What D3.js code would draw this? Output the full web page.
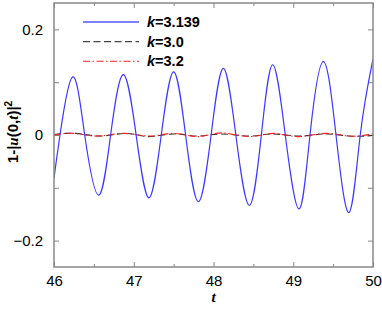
<!DOCTYPE html>
<html>
<head>
<meta charset="utf-8">
<script src="https://cdn.jsdelivr.net/npm/d3@7"></script>
<style>
  body { margin: 0; background: #fff; }
  svg { display: block; font-family: "Liberation Sans", Arial, sans-serif; }
</style>
</head>
<body>
<svg id="chart"></svg>
<script>
// Values: [t, 1-|u(0,t)|^2]
const seriesK3139 = [
  [46.00, -0.082], [46.075, 0], [46.234, 0.110], [46.385, 0], [46.56, -0.114],
  [46.71, 0], [46.869, 0.1145], [47.03, 0], [47.19, -0.119], [47.345, 0],
  [47.50, 0.1196], [47.65, 0], [47.81, -0.126], [47.97, 0], [48.123, 0.126],
  [48.28, 0], [48.449, -0.133], [48.60, 0], [48.742, 0.133], [48.90, 0],
  [49.072, -0.140], [49.21, 0], [49.377, 0.139], [49.536, 0], [49.699, -0.147],
  [49.84, 0], [50.00, 0.144]
];
const seriesK30 = [
  [46.00, 0.001], [46.28, 0.003], [46.58, -0.002], [46.91, 0.003], [47.18, -0.003],
  [47.50, 0.002], [47.80, -0.002], [48.10, 0.002], [48.45, -0.002], [48.75, 0.002],
  [49.07, -0.002], [49.40, 0.002], [49.70, -0.002], [50.00, -0.001]
];
const seriesK32 = [
  [46.00, 0.000], [46.25, 0.003], [46.55, -0.002], [46.88, 0.003], [47.20, -0.002],
  [47.50, 0.003], [47.82, -0.003], [48.10, 0.004], [48.45, -0.003], [48.75, 0.003],
  [49.05, -0.003], [49.40, 0.003], [49.70, -0.002], [50.00, 0.002]
];
const legendLabels = ["3.139", "3.0", "3.2"];
const xMajorTicks = [46, 47, 48, 49, 50];
const xMinorTicks = [46.5, 47.5, 48.5, 49.5];
const yMajorTicks = [-0.2, 0, 0.2];
const yMinorTicks = [-0.1, 0.1];
const yTickLabels = ["\u22120.2", "0", "0.2"];

const width = 382, height = 311;
const margin = {top: 3, right: 9, bottom: 44, left: 54};
const w = width - margin.left - margin.right;
const h = height - margin.top - margin.bottom;

const svg = d3.select("#chart").attr("width", width).attr("height", height);
const g = svg.append("g").attr("transform", `translate(${margin.left},${margin.top})`);

const x = d3.scaleLinear().domain([46, 50]).range([0, w]);
const y = d3.scaleLinear().domain([-0.25, 0.25]).range([h, 0]);

g.append("defs").append("clipPath").attr("id", "clip")
  .append("rect").attr("width", w).attr("height", h);

const axisColor = "#888";

// axes (ticks point inward, mirrored on top and right)
const bottom = g.append("g").attr("transform", `translate(0,${h})`)
  .call(d3.axisBottom(x).tickValues(xMajorTicks).tickSize(-5).tickPadding(8.5).tickFormat(d3.format("d")));
g.append("g").attr("transform", `translate(0,${h})`)
  .call(d3.axisBottom(x).tickValues(xMinorTicks).tickSize(-3).tickFormat(""));
g.append("g").call(d3.axisTop(x).tickValues(xMajorTicks).tickSize(-5).tickFormat(""));
g.append("g").call(d3.axisTop(x).tickValues(xMinorTicks).tickSize(-3).tickFormat(""));

g.append("g")
  .call(d3.axisLeft(y).tickValues(yMajorTicks).tickSize(-5).tickPadding(11)
    .tickFormat((d, i) => yTickLabels[i]));
g.append("g").call(d3.axisLeft(y).tickValues(yMinorTicks).tickSize(-5).tickFormat(""));
g.append("g").attr("transform", `translate(${w},0)`)
  .call(d3.axisRight(y).tickValues(yMajorTicks).tickSize(-5).tickFormat(""));
g.append("g").attr("transform", `translate(${w},0)`)
  .call(d3.axisRight(y).tickValues(yMinorTicks).tickSize(-5).tickFormat(""));

g.selectAll(".domain").remove();
g.selectAll(".tick line").attr("stroke", axisColor).attr("stroke-width", 1);
g.selectAll(".tick text").attr("fill", "#000").style("font-size", "15px")
  .style("font-family", "'Liberation Sans', Arial, sans-serif");

// curves
const line = d3.line().x(d => x(d[0])).y(d => y(d[1])).curve(d3.curveNatural);
const plot = g.append("g").attr("clip-path", "url(#clip)");

plot.append("path").datum(seriesK30)
  .attr("d", line).attr("fill", "none")
  .attr("stroke", "#333").attr("stroke-width", 1.1).attr("stroke-dasharray", "7,3.5");
plot.append("path").datum(seriesK32)
  .attr("d", line).attr("fill", "none")
  .attr("stroke", "#ff2020").attr("stroke-width", 1.1).attr("stroke-dasharray", "7,2.5,1.5,2.5");
plot.append("path").datum(seriesK3139)
  .attr("d", line).attr("fill", "none")
  .attr("stroke", "#3a3aff").attr("stroke-width", 1.2);

// frame
g.append("rect").attr("width", w).attr("height", h)
  .attr("fill", "none").attr("stroke", axisColor).attr("stroke-width", 1.5);

// legend
const legendStyles = [
  {stroke: "#8080ff", dash: null, width: 2},
  {stroke: "#444", dash: "7,3.5", width: 1.1},
  {stroke: "#ff2020", dash: "7,2.5,1.5,2.5", width: 1.1}
];
const legend = svg.append("g");
legendLabels.forEach((lab, i) => {
  const ly = 22 + i * 19.6;
  legend.append("line")
    .attr("x1", 83).attr("x2", 139).attr("y1", ly).attr("y2", ly)
    .attr("stroke", legendStyles[i].stroke)
    .attr("stroke-width", legendStyles[i].width)
    .attr("stroke-dasharray", legendStyles[i].dash);
  const t = legend.append("text").attr("x", 147).attr("y", ly + 5)
    .style("font-size", "14.5px").style("font-weight", "bold");
  t.append("tspan").style("font-style", "italic").text("k");
  t.append("tspan").text("=" + lab);
});

// axis titles
svg.append("text")
  .attr("x", margin.left + x(48)).attr("y", 302)
  .attr("text-anchor", "middle")
  .style("font-size", "15px").style("font-style", "italic").style("font-weight", "bold")
  .style("font-family", "'Liberation Serif', serif")
  .text("t");

const yt = svg.append("text")
  .attr("transform", "translate(18,132) rotate(-90)")
  .attr("text-anchor", "middle")
  .style("font-size", "15px").style("font-weight", "bold");
yt.append("tspan").text("1-|");
yt.append("tspan").style("font-style", "italic").style("font-family", "'Liberation Serif', serif").text("u");
yt.append("tspan").text("(0,");
yt.append("tspan").style("font-style", "italic").style("font-family", "'Liberation Serif', serif").text("t");
yt.append("tspan").text(")|");
yt.append("tspan").attr("dy", -6).style("font-size", "10px").text("2");
</script>
</body>
</html>
